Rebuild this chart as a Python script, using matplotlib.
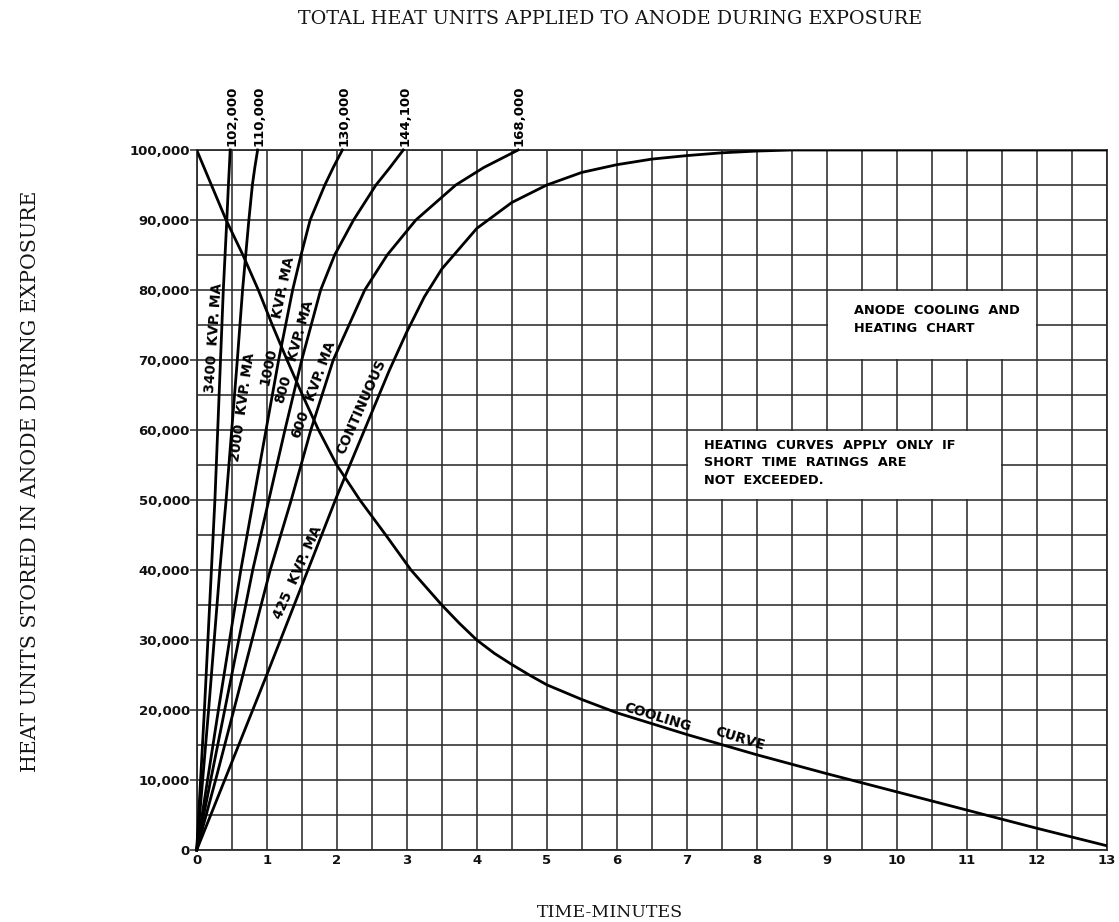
import matplotlib
matplotlib.use("Agg")
import matplotlib.pyplot as plt
from matplotlib.patches import Rectangle

# ---------------- data ----------------
levels = [0, 10000, 20000, 30000, 40000, 50000, 60000, 70000, 80000, 85000, 90000, 95000, 97500, 100000]
x_3400 = [0, 0.055, 0.11, 0.16, 0.21, 0.26, 0.30, 0.34, 0.38, 0.405, 0.43, 0.453, 0.466, 0.478]
x_2000 = [0, 0.085, 0.17, 0.25, 0.33, 0.42, 0.50, 0.58, 0.655, 0.70, 0.745, 0.795, 0.83, 0.87]
x_1000 = [0, 0.155, 0.31, 0.47, 0.63, 0.81, 0.99, 1.17, 1.37, 1.49, 1.62, 1.83, 1.95, 2.08]
x_800 = [0, 0.20, 0.40, 0.60, 0.80, 1.03, 1.26, 1.50, 1.77, 1.97, 2.24, 2.56, 2.76, 2.95]
x_600 = [0, 0.27, 0.53, 0.79, 1.05, 1.35, 1.63, 1.95, 2.40, 2.72, 3.13, 3.70, 4.10, 4.59]

cont_t = [0, 1, 2, 2.5, 2.75, 3, 3.25, 3.5, 4, 4.5, 5, 5.5, 6, 6.5, 7, 7.5, 8, 8.5, 13]
cont_h = [0, 25000, 50500, 62500, 68500, 74000, 79000, 83000, 88800, 92500, 95000,
          96800, 97900, 98700, 99200, 99600, 99850, 100000, 100000]

cool_t = [0, 0.42, 0.66, 0.88, 1.08, 1.29, 1.51, 1.74, 2.0, 2.33, 2.7, 3.06, 3.5, 3.75, 4.0,
          4.25, 4.5, 4.75, 5, 5.5, 6, 7, 8, 9, 10, 11, 12, 13]
cool_h = [100000, 90000, 85000, 80000, 75000, 70000, 65000, 60000, 55000, 50000, 45000,
          40000, 35000, 32400, 30000, 28100, 26500, 25000, 23600, 21500, 19600, 16500,
          13600, 10900, 8300, 5700, 3100, 600]

total_labels = ["102,000", "110,000", "130,000", "144,100", "168,000"]
ytick_vals = [0, 10000, 20000, 30000, 40000, 50000, 60000, 70000, 80000, 90000, 100000]
ytick_labels = ["0", "10,000", "20,000", "30,000", "40,000", "50,000", "60,000",
                "70,000", "80,000", "90,000", "100,000"]
xtick_vals = list(range(0, 14))
xtick_labels = [str(v) for v in xtick_vals]

# ---------------- figure ----------------
W, H = 1119, 922
fig = plt.figure(figsize=(W / 100, H / 100), dpi=100)
fig.patch.set_facecolor("white")
x0p, x1p, y0p, y1p = 196.7, 1107, 850, 150
ax = fig.add_axes([x0p / W, 1 - y0p / H, (x1p - x0p) / W, (y0p - y1p) / H])
ax.set_xlim(0, 13)
ax.set_ylim(0, 100000)

gridc = "#2c2c2c"
ax.set_axisbelow(True)
ax.set_xticks([i * 0.5 for i in range(27)], minor=True)
ax.set_yticks([i * 5000 for i in range(21)], minor=True)
ax.grid(which="both", color=gridc, linewidth=1.15)
ax.set_xticks(xtick_vals)
ax.set_xticklabels(xtick_labels)
ax.set_yticks(ytick_vals)
ax.set_yticklabels(ytick_labels)
ax.tick_params(axis="x", which="both", length=0, pad=3)
ax.tick_params(axis="y", which="major", length=5, width=1.1, color=gridc, pad=0)
ax.tick_params(axis="y", which="minor", length=0)
for lab in ax.get_xticklabels() + ax.get_yticklabels():
    lab.set_fontfamily("DejaVu Sans")
    lab.set_fontweight("bold")
    lab.set_fontsize(9.5)
    lab.set_color("#111111")
for s in ax.spines.values():
    s.set_color(gridc)
    s.set_linewidth(1.3)

# white note boxes covering grid
ax.add_patch(Rectangle((9.02, 70200), 2.96, 9600, facecolor="white", edgecolor="none", zorder=1))
ax.add_patch(Rectangle((7.02, 50200), 4.46, 9600, facecolor="white", edgecolor="none", zorder=1))

lw = 2.0
for xs in (x_3400, x_2000, x_1000, x_800, x_600):
    ax.plot(xs, levels, color="black", linewidth=lw, zorder=3, clip_on=False,
            solid_joinstyle="round")
ax.plot(cont_t, cont_h, color="black", linewidth=lw, zorder=3, solid_joinstyle="round")
ax.plot(cool_t, cool_h, color="black", linewidth=lw, zorder=3, solid_joinstyle="round")

# totals at top
ends = [x_3400[-1], x_2000[-1], x_1000[-1], x_800[-1], x_600[-1]]
for xe, lab in zip(ends, total_labels):
    ax.text(xe + 0.02, 100600, lab, rotation=90, ha="center", va="bottom",
            fontsize=9.5, fontweight="bold", family="DejaVu Sans", clip_on=False)

lf = dict(fontsize=9.8, fontweight="bold", family="DejaVu Sans", ha="center",
          va="center", rotation_mode="anchor", zorder=4)
ax.text(0.25, 73100, "3400  KVP. MA", rotation=86, **lf)
ax.text(0.66, 63300, "2000  KVP. MA", rotation=82, **lf)
ax.text(1.03, 69100, "1000", rotation=78, **lf)
ax.text(1.24, 80400, "KVP. MA", rotation=78, **lf)
ax.text(1.23, 65800, "800", rotation=74, **lf)
ax.text(1.48, 74100, "KVP. MA", rotation=74, **lf)
ax.text(1.48, 60800, "600", rotation=70, **lf)
ax.text(1.78, 68400, "KVP. MA", rotation=70, **lf)
ax.text(2.35, 63400, "CONTINUOUS", rotation=66, **lf)
ax.text(1.45, 39600, "425  KVP. MA", rotation=66, **lf)
ax.text(6.58, 18900, "COOLING", rotation=-17, **lf)
ax.text(7.76, 15900, "CURVE", rotation=-17, **lf)

nf = dict(fontsize=9.3, fontweight="bold", family="DejaVu Sans", ha="left",
          va="center", zorder=4, linespacing=1.45)
ax.text(9.38, 75800, "ANODE  COOLING  AND\nHEATING  CHART", **nf)
ax.text(7.24, 55300, "HEATING  CURVES  APPLY  ONLY  IF\nSHORT  TIME  RATINGS  ARE\nNOT  EXCEEDED.", **nf)

sf = dict(family="DejaVu Serif", color="#151515")
fig.text(610 / W, 1 - 19 / H, "TOTAL HEAT UNITS APPLIED TO ANODE DURING EXPOSURE",
         ha="center", va="center", fontsize=13.8, **sf)
fig.text(31 / W, 1 - 481 / H, "HEAT UNITS STORED IN ANODE DURING EXPOSURE",
         ha="center", va="center", rotation=90, fontsize=14.8, **sf)
fig.text(610 / W, 1 - 912 / H, "TIME-MINUTES", ha="center", va="center", fontsize=12.5, **sf)

fig.savefig("out.png", dpi=100, facecolor="white")
